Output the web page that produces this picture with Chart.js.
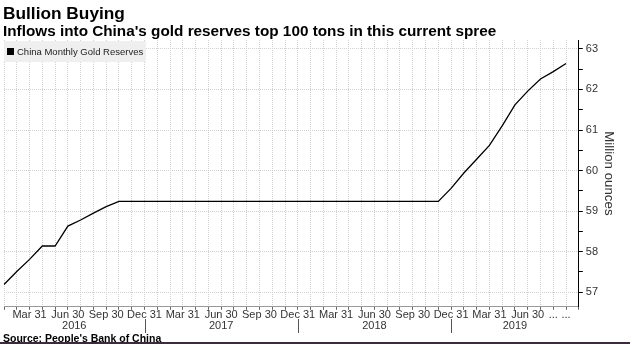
<!DOCTYPE html>
<html>
<head>
<meta charset="utf-8">
<script src="https://cdn.jsdelivr.net/npm/chart.js@4.4.1/dist/chart.umd.min.js"></script>
<style>
    body { margin: 0; background: #fff; }
    #wrap { position: relative; width: 630px; height: 344px; overflow: hidden; font-family: "Liberation Sans", Arial, sans-serif; color: #000; }
    #wrap canvas { position: absolute; left: 0; top: 0; }
    .title { position: absolute; left: 3px; top: 3px; font-size: 17.3px; line-height: 20px; font-weight: bold; white-space: nowrap; }
    .subtitle { position: absolute; left: 3px; top: 22px; font-size: 15.3px; line-height: 18px; font-weight: bold; white-space: nowrap; }
    .source { position: absolute; left: 3px; top: 332px; font-size: 10.5px; line-height: 12px; font-weight: bold; white-space: nowrap; }
    .rule { position: absolute; left: 0; right: 0; bottom: 0; height: 2px; background: #3b2b3b; }
</style>
</head>
<body>
<div id="wrap">
    <canvas id="goldChart" width="630" height="344"></canvas>
    <div class="title">Bullion Buying</div>
    <div class="subtitle">Inflows into China's gold reserves top 100 tons in this current spree</div>
    <div class="source">Source: People's Bank of China</div>
    <div class="rule"></div>
</div>
<script>
// Month-end reserves, million ounces
const reserves2016 = [57.19, 57.51, 57.81, 58.14, 58.14, 58.63, 58.78, 58.95, 59.11, 59.24, 59.24, 59.24];
const reserves2017 = [59.24, 59.24, 59.24, 59.24, 59.24, 59.24, 59.24, 59.24, 59.24, 59.24, 59.24, 59.24];
const reserves2018 = [59.24, 59.24, 59.24, 59.24, 59.24, 59.24, 59.24, 59.24, 59.24, 59.24, 59.24, 59.56];
const reserves2019 = [59.94, 60.28, 60.62, 61.10, 61.62, 61.96, 62.26, 62.44, 62.64];
const reserves = [...reserves2016, ...reserves2017, ...reserves2018, ...reserves2019];

const years = ['2016', '2017', '2018', '2019'];
const quarterEnds = { '03': 'Mar 31', '06': 'Jun 30', '09': 'Sep 30', '12': 'Dec 31' };
const cutLabels = ['2019-08', '2019-09'];   // labels that don't fit, shown as "..."

// axis runs Jan 2016 .. Oct 2019
const months = [];
years.forEach(y => {
    for (let m = 1; m <= 12; m++) months.push(y + '-' + String(m).padStart(2, '0'));
});
months.length = 46;

const font = '"Liberation Sans", Arial, sans-serif';
Chart.defaults.font.family = font;
Chart.defaults.color = '#333';

// legend box, year row and year separators
const extras = {
    id: 'extras',
    afterDraw(chart) {
        const { ctx, chartArea } = chart;
        const x = chart.scales.x;
        ctx.save();

        ctx.fillStyle = '#efefef';
        ctx.fillRect(chartArea.left, chartArea.top + 1, 142, 21);
        ctx.fillStyle = '#000';
        ctx.fillRect(chartArea.left + 3, chartArea.top + 8, 7, 7);
        ctx.font = '9.5px ' + font;
        ctx.textBaseline = 'middle';
        ctx.fillStyle = '#222';
        ctx.fillText(chart.data.datasets[0].label, chartArea.left + 13, chartArea.top + 12);

        ctx.font = '11px ' + font;
        ctx.textAlign = 'center';
        ctx.fillStyle = '#333';
        ctx.strokeStyle = '#555';
        ctx.lineWidth = 1;
        years.forEach(y => {
            const first = months.findIndex(m => m.startsWith(y));
            const last = months.length - 1 - [...months].reverse().findIndex(m => m.startsWith(y));
            const left = first === 0 ? x.getPixelForValue(0) : x.getPixelForValue(first - 1);
            const right = x.getPixelForValue(last);
            ctx.fillText(y, (left + right) / 2, 326);
            if (first > 0) {
                ctx.beginPath();
                ctx.moveTo(Math.round(left) + 0.5, 319);
                ctx.lineTo(Math.round(left) + 0.5, 333);
                ctx.stroke();
            }
        });
        ctx.restore();
    }
};

new Chart(document.getElementById('goldChart'), {
    type: 'line',
    data: {
        labels: months,
        datasets: [{
            label: 'China Monthly Gold Reserves',
            data: reserves,
            borderColor: '#000',
            borderWidth: 1.3,
            pointRadius: 0,
            tension: 0,
            fill: false
        }]
    },
    options: {
        responsive: false,
        animation: false,
        layout: { padding: { top: 40, left: 4, right: 9, bottom: 23 } },
        plugins: {
            legend: { display: false },
            tooltip: { enabled: false }
        },
        scales: {
            x: {
                grid: { color: '#d2d2d2', tickColor: '#666', tickLength: 3 },
                border: { color: '#999', dash: [1, 1] },
                ticks: {
                    autoSkip: false,
                    maxRotation: 0,
                    padding: -1,
                    font: { size: 11 },
                    callback: (v, i) => {
                        const m = months[i];
                        if (cutLabels.includes(m)) return '...';
                        return quarterEnds[m.slice(5)] || '';
                    }
                }
            },
            y: {
                position: 'right',
                min: 56.64,
                max: 63.22,
                grid: {
                    color: c => (c.tick && c.tick.value % 1 === 0) ? '#d2d2d2' : 'rgba(0,0,0,0)',
                    tickColor: '#000',
                    tickLength: 4
                },
                border: { color: '#000', dash: [1, 1] },
                ticks: {
                    stepSize: 0.5,
                    includeBounds: false,
                    padding: 3,
                    font: { size: 11 },
                    callback: v => v % 1 === 0 ? v : ''
                },
                title: {
                    display: true,
                    text: 'Million ounces',
                    font: { size: 13.3 },
                    padding: { top: 4, bottom: 0 }
                }
            }
        }
    },
    plugins: [extras]
});
</script>
</body>
</html>
